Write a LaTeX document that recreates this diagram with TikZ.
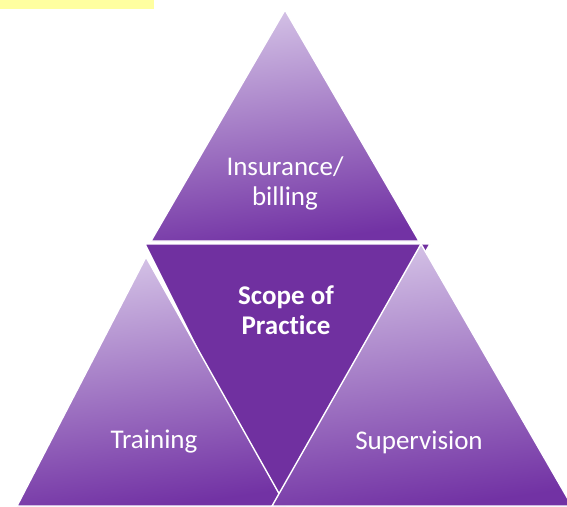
\documentclass[tikz,border=0pt]{standalone}
\usepackage{fontspec}
\setmainfont{Carlito}[Ligatures=NoCommon]
\usetikzlibrary{positioning}
\definecolor{scopepurple}{RGB}{112,48,160}
\definecolor{lavtop}{RGB}{212,194,230}
\definecolor{lavbottom}{RGB}{114,50,164}
\definecolor{noteyellow}{RGB}{255,255,160}

\begin{document}
\begin{tikzpicture}[x=1pt, y=-1pt,
    tri/.style={draw=white, line width=1.4pt, line join=miter,
      top color=lavtop, bottom color=lavbottom, shading angle=8},
    midtri/.style={draw=white, line width=1.4pt, line join=miter, fill=scopepurple},
    lbl/.style={text=white, align=center, font=\fontsize{27}{30}\selectfont}
  ]
  \useasboundingbox (0,0) rectangle (567,506);
  \clip (0,0) rectangle (567,506);

  % banner cut off at the top edge
  \fill[noteyellow] (0,0) rectangle (154,9);

  % corners
  \coordinate (topA) at (285,10);
  \coordinate (topL) at (151,241);
  \coordinate (topR) at (419,241);
  \coordinate (midL) at (145,244);
  \coordinate (midR) at (430,244);
  \coordinate (midB) at (276,506);
  \coordinate (leftA) at (146,257);
  \coordinate (leftL) at (17,506);
  \coordinate (leftR) at (286,506);
  \coordinate (rightA) at (421,244);
  \coordinate (rightL) at (272,506);
  \coordinate (rightR) at (572,506);

  \draw[tri] (topA) -- (topL) -- (topR) -- cycle;
  \draw[midtri] (midL) -- (midR) -- (midB) -- cycle;
  \draw[tri] (leftA) -- (leftL) -- (leftR) -- cycle;
  \draw[tri] (rightA) -- (rightL) -- (rightR) -- cycle;

  \node[lbl] (insur) at (285,183) {Insurance/\\billing};
  \node[lbl, font=\fontsize{27}{30}\selectfont\bfseries] (scope) at (286,310) {Scope of\\Practice};
  \node[lbl] (train) at (154,442) {Training};
  \node[lbl] (superv) at (419,442) {Supervision};
\end{tikzpicture}
\end{document}
